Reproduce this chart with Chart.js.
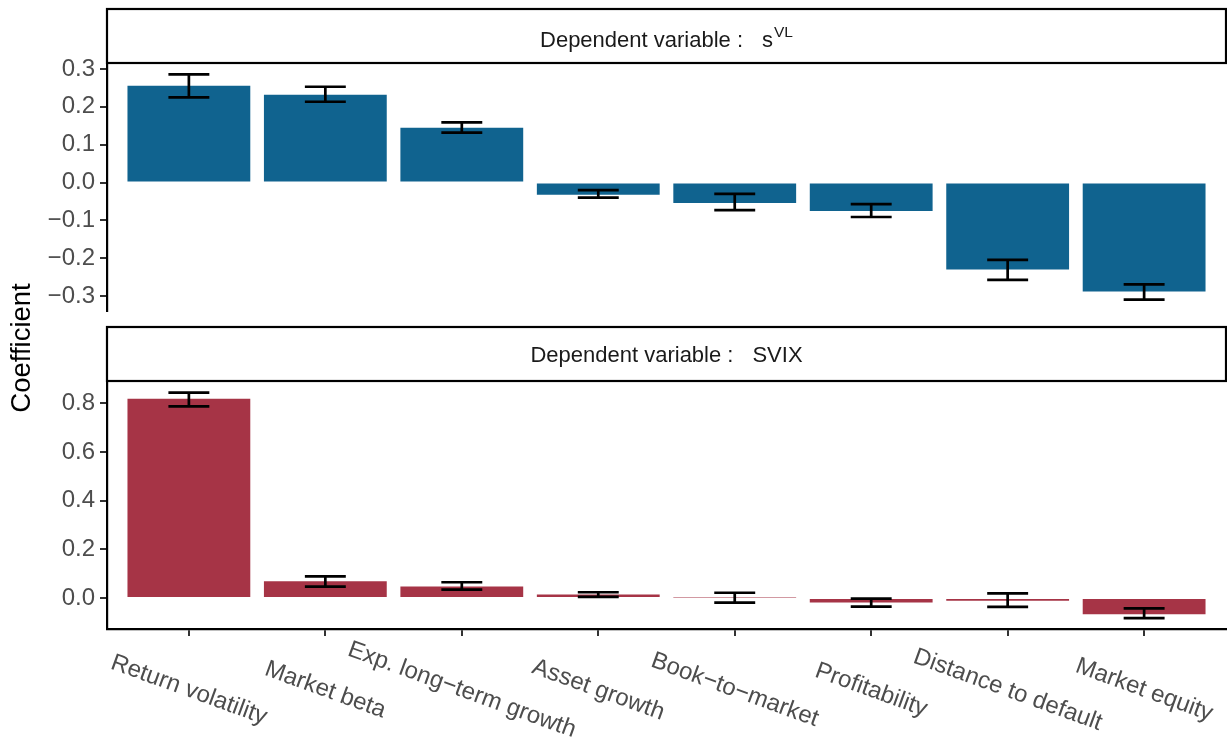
<!DOCTYPE html>
<html><head><meta charset="utf-8">
<script src="https://cdn.jsdelivr.net/npm/chart.js@4.4.1/dist/chart.umd.min.js"></script>
<style>
html,body{margin:0;padding:0;background:#fff;}
#wrap{position:relative;width:1227px;height:740px;overflow:hidden;}
canvas{position:absolute;left:0;top:0;}
</style></head><body>
<div id="wrap"><canvas id="c1" width="1227" height="740"></canvas><canvas id="c2" width="1227" height="740"></canvas></div>
<script>
// ---- data ----
const categories = ["Return volatility","Market beta","Exp. long\u2212term growth","Asset growth","Book\u2212to\u2212market","Profitability","Distance to default","Market equity"];
const coefVL = [0.256, 0.232, 0.145, -0.032, -0.054, -0.075, -0.230, -0.288];
const lowVL  = [0.225, 0.2135, 0.132, -0.040, -0.073, -0.091, -0.257, -0.3095];
const highVL = [0.286, 0.253, 0.159, -0.020, -0.030, -0.057, -0.2045, -0.269];
const coefSVIX = [0.819, 0.069, 0.048, 0.015, 0.002, -0.018, -0.011, -0.066];
const lowSVIX  = [0.788, 0.047, 0.0345, 0.005, -0.019, -0.035, -0.036, -0.0825];
const highSVIX = [0.844, 0.0895, 0.065, 0.024, 0.022, -0.002, 0.019, -0.0425];
const ticksVL = [-0.3, -0.2, -0.1, 0.0, 0.1, 0.2, 0.3];
const ticksSVIX = [0.0, 0.2, 0.4, 0.6, 0.8];
const stripVL = {main: "Dependent variable :", sym: "s", sup: "VL"};
const stripSVIX = {main: "Dependent variable :", sym: "SVIX", sup: ""};
const yTitle = "Coefficient";

// ---- styling ----
const FONT = '"Liberation Sans", Arial, Helvetica, sans-serif';
Chart.defaults.font.family = FONT;
const BLUE = '#10638F', RED = '#A63446';
const AXIS_LEFT = 107;
const TICK_SIZE = 24;

function fmt(v){
  let s = Math.abs(v) < 1e-9 ? '0.0' : v.toFixed(1);
  return s.replace('-', '\u2212');
}

function drawStrip(chart, info){
  const {ctx, chartArea} = chart;
  const top = chartArea.top - 54, bottom = chartArea.top;
  const left = chartArea.left, right = chartArea.right;
  ctx.save();
  ctx.fillStyle = '#fff';
  ctx.fillRect(left, top, right-left, bottom-top);
  ctx.strokeStyle = '#000'; ctx.lineWidth = 2.2;
  ctx.strokeRect(left, top, right-left, bottom-top);
  ctx.fillStyle = '#1A1A1A';
  ctx.textBaseline = 'alphabetic'; ctx.textAlign = 'left';
  ctx.font = '22px ' + FONT;
  const wMain = ctx.measureText(info.main).width;
  const gap = 19;
  const wSym = ctx.measureText(info.sym).width;
  ctx.font = '15.5px ' + FONT;
  const wSup = info.sup ? ctx.measureText(info.sup).width + 1 : 0;
  const total = wMain + gap + wSym + wSup;
  const cx = (left + right) / 2;
  let x = cx - total/2;
  const base = info.sup ? top + 38 : top + 35;
  ctx.font = '22px ' + FONT;
  ctx.fillText(info.main, x, base);
  x += wMain + gap;
  ctx.fillText(info.sym, x, base);
  x += wSym + 1;
  if (info.sup){
    ctx.font = '15.5px ' + FONT;
    ctx.fillText(info.sup, x, base - 10);
  }
  ctx.restore();
}

function drawErrorBars(chart, lows, highs){
  const {ctx} = chart;
  const xs = chart.scales.x, ys = chart.scales.y;
  ctx.save();
  ctx.strokeStyle = '#000'; ctx.lineWidth = 2.7; ctx.lineCap = 'butt';
  for (let i = 0; i < lows.length; i++){
    const xc = xs.getPixelForValue(i);
    const xl = xs.getPixelForValue(i - 0.15), xr = xs.getPixelForValue(i + 0.15);
    const yl = ys.getPixelForValue(lows[i]), yh = ys.getPixelForValue(highs[i]);
    ctx.beginPath();
    ctx.moveTo(xl, yh); ctx.lineTo(xr, yh);
    ctx.moveTo(xl, yl); ctx.lineTo(xr, yl);
    ctx.moveTo(xc, yh); ctx.lineTo(xc, yl);
    ctx.stroke();
  }
  ctx.restore();
}

function makeChart(id, coefs, lows, highs, color, yTicks, yMin, yMax, strip, isBottom){
  const xScale = {
    type: 'linear', min: -0.6, max: 7.6, offset: false,
    display: isBottom,
    afterBuildTicks: s => { s.ticks = categories.map((c, i) => ({value: i})); },
    ticks: {display: false, autoSkip: false},
    grid: {display: true, drawOnChartArea: false, drawTicks: true, tickLength: 7, color: '#333333', lineWidth: 2, offset: false},
    border: {display: true, color: '#000', width: 2.2}
  };
  if (isBottom) xScale.afterFit = s => { s.height = 111; };
  const plugin = {
    id: 'extras' + id,
    afterDatasetsDraw(chart){ drawErrorBars(chart, lows, highs); },
    afterDraw(chart){
      drawStrip(chart, strip);
      if (isBottom){
        const {ctx} = chart;
        const xs = chart.scales.x;
        ctx.save();
        ctx.fillStyle = '#4D4D4D';
        ctx.font = TICK_SIZE + 'px ' + FONT;
        ctx.textAlign = 'center'; ctx.textBaseline = 'middle';
        categories.forEach((c, i) => {
          ctx.save();
          ctx.translate(xs.getPixelForValue(i), 690);
          ctx.rotate(20 * Math.PI / 180);
          ctx.fillText(c, 0, 0);
          ctx.restore();
        });
        ctx.fillStyle = '#000';
        ctx.font = '27.5px ' + FONT;
        ctx.translate(22, 348);
        ctx.rotate(-Math.PI/2);
        ctx.fillText(yTitle, 0, 0);
        ctx.restore();
      }
    }
  };
  return new Chart(document.getElementById(id), {
    type: 'bar',
    data: {
      datasets: [{
        data: coefs.map((v, i) => ({x: i, y: v})),
        backgroundColor: color,
        borderWidth: 0,
        categoryPercentage: 0.9,
        barPercentage: 1.0
      }]
    },
    options: {
      responsive: false, animation: false, devicePixelRatio: 1,
      layout: {padding: isBottom ? {top: 381, left: 0, right: 1, bottom: 0} : {top: 63, left: 0, right: 1, bottom: 429}},
      plugins: {legend: {display: false}, tooltip: {enabled: false}},
      scales: {
        x: xScale,
        y: {
          type: 'linear', min: yMin, max: yMax,
          afterBuildTicks: s => { s.ticks = yTicks.map(v => ({value: v})); },
          afterFit: s => { s.width = AXIS_LEFT; },
          ticks: {callback: v => fmt(v), color: '#4D4D4D', font: {size: TICK_SIZE}, padding: 5, autoSkip: false},
          grid: {display: true, drawOnChartArea: false, drawTicks: true, tickLength: 7, color: '#333333', lineWidth: 2},
          border: {display: true, color: '#000', width: 2.2}
        }
      }
    },
    plugins: [plugin]
  });
}

makeChart('c1', coefVL, lowVL, highVL, BLUE, ticksVL, -0.3393, 0.3158, stripVL, false);
makeChart('c2', coefSVIX, lowSVIX, highSVIX, RED, ticksSVIX, -0.127, 0.892, stripSVIX, true);
</script>
</body></html>
